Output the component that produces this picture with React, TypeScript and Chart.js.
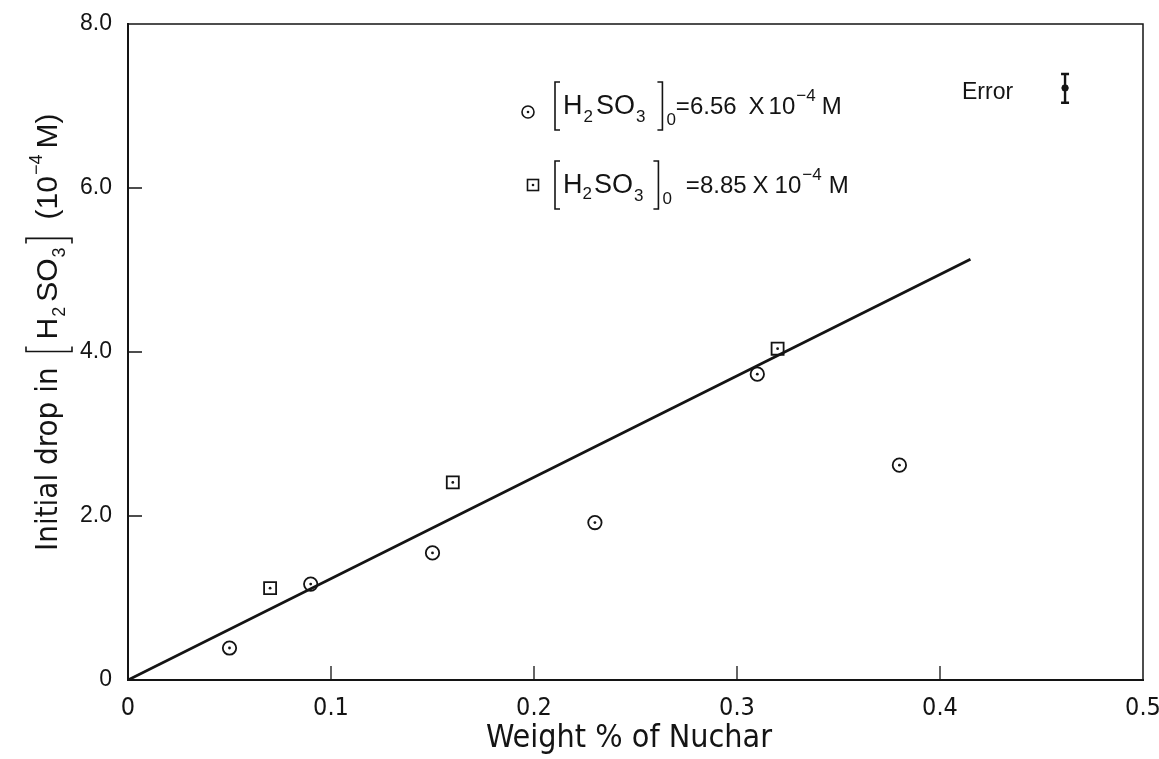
import React, { useEffect, useRef } from "react";
import { Chart, registerables } from "chart.js";

Chart.register(...registerables);

// ---- data ----
const circleX = [0.05, 0.09, 0.15, 0.23, 0.31, 0.38];
const circleY = [0.39, 1.17, 1.55, 1.92, 3.73, 2.62];
const squareX = [0.07, 0.16, 0.32];
const squareY = [1.12, 2.41, 4.04];
const fitX = [0, 0.415];
const fitY = [0, 5.13];
const errX = [0.4616];
const errY = [7.22];
const errLow = [7.04];
const errHigh = [7.39];
const xTicks = [0, 0.1, 0.2, 0.3, 0.4, 0.5];
const yTicks = [0, 2, 4, 6, 8];
const xTickLabels = ["0", "0.1", "0.2", "0.3", "0.4", "0.5"];
const yTickLabels = ["0", "2.0", "4.0", "6.0", "8.0"];

const INK = "#141414";
const SANS = '"Liberation Sans", Arial, sans-serif';
const NARROW = '"Liberation Sans Narrow", "DejaVu Sans Condensed", "Liberation Sans", sans-serif';

type Seg = { t?: string; s?: number; dy?: number; br?: "l" | "r"; up?: number; down?: number; gap?: number; font?: string };

function drawRich(ctx: CanvasRenderingContext2D, segs: Seg[], x: number, y: number, font: string) {
  let cx = x;
  ctx.textBaseline = "alphabetic";
  ctx.textAlign = "left";
  for (const seg of segs) {
    if (seg.br) {
      const up = seg.up || 30;
      const down = seg.down || 14;
      ctx.beginPath();
      ctx.lineWidth = 1.6;
      ctx.strokeStyle = INK;
      if (seg.br === "l") {
        ctx.moveTo(cx + 7, y - up);
        ctx.lineTo(cx + 2, y - up);
        ctx.lineTo(cx + 2, y + down);
        ctx.lineTo(cx + 7, y + down);
      } else {
        ctx.moveTo(cx + 2, y - up);
        ctx.lineTo(cx + 7, y - up);
        ctx.lineTo(cx + 7, y + down);
        ctx.lineTo(cx + 2, y + down);
      }
      ctx.stroke();
      cx += 10 + (seg.gap || 0);
    } else {
      ctx.font = `${seg.s}px ${seg.font || font}`;
      ctx.fillStyle = INK;
      ctx.fillText(seg.t || "", cx, y + (seg.dy || 0));
      cx += ctx.measureText(seg.t || "").width + (seg.gap || 0);
    }
  }
}

const legend1: Seg[] = [
  { br: "l", up: 32, down: 16, gap: 0 },
  { t: "H", s: 27, gap: 1 },
  { t: "2", s: 17, dy: 8, gap: 3 },
  { t: "SO", s: 27, gap: 1 },
  { t: "3", s: 17, dy: 8, gap: 10 },
  { br: "r", up: 32, down: 16, gap: 1 },
  { t: "0", s: 17, dy: 11 },
  { t: "=6.56", s: 24, gap: 12 },
  { t: "X", s: 24, gap: 4 },
  { t: "10", s: 24, gap: 1 },
  { t: "−4", s: 17, dy: -13, gap: 6 },
  { t: "M", s: 24 },
];
const legend2: Seg[] = [
  { br: "l", up: 32, down: 16, gap: 0 },
  { t: "H", s: 27, gap: 0 },
  { t: "2", s: 17, dy: 6, gap: 2 },
  { t: "SO", s: 27, gap: 1 },
  { t: "3", s: 17, dy: 8, gap: 8 },
  { br: "r", up: 32, down: 16, gap: 1 },
  { t: "0", s: 17, dy: 11, gap: 14 },
  { t: "=8.85", s: 24, gap: 6 },
  { t: "X", s: 24, gap: 6 },
  { t: "10", s: 24, gap: 1 },
  { t: "−4", s: 17, dy: -13, gap: 7 },
  { t: "M", s: 24 },
];
const yTitle: Seg[] = [
  { t: "Initial drop in", s: 31, font: NARROW, gap: 14 },
  { br: "l", up: 31, down: 15, gap: 4 },
  { t: "H", s: 30, gap: 1 },
  { t: "2", s: 18, dy: 8, gap: 5 },
  { t: "SO", s: 30, gap: 1 },
  { t: "3", s: 18, dy: 8, gap: 2 },
  { br: "r", up: 31, down: 15, gap: 16 },
  { t: "(10", s: 30, gap: 1 },
  { t: "−4", s: 18, dy: -15, gap: 6 },
  { t: "M)", s: 30 },
];

const decorPlugin = {
  id: "decor",
  afterDatasetsDraw(chart: any) {
    const ctx: CanvasRenderingContext2D = chart.ctx;
    const xs = chart.scales.x;
    const ys = chart.scales.y;
    const area = chart.chartArea;
    ctx.save();
    // frame top & right
    ctx.strokeStyle = INK;
    ctx.lineWidth = 1.5;
    ctx.beginPath();
    ctx.moveTo(area.left, area.top);
    ctx.lineTo(area.right, area.top);
    ctx.lineTo(area.right, area.bottom);
    ctx.stroke();
    // inward ticks
    ctx.lineWidth = 1.3;
    ctx.beginPath();
    for (const v of yTicks) {
      if (v === 0 || v === 8) continue;
      const py = ys.getPixelForValue(v);
      ctx.moveTo(area.left, py);
      ctx.lineTo(area.left + 14, py);
    }
    for (const v of xTicks) {
      if (v === 0 || v === 0.5) continue;
      const px = xs.getPixelForValue(v);
      ctx.moveTo(px, area.bottom);
      ctx.lineTo(px, area.bottom - 14);
    }
    ctx.stroke();
    // center dots
    ctx.fillStyle = INK;
    [1, 2].forEach((i) => {
      chart.getDatasetMeta(i).data.forEach((el: any) => {
        ctx.beginPath();
        ctx.arc(el.x, el.y, 1.4, 0, Math.PI * 2);
        ctx.fill();
      });
    });
    // error bar
    ctx.lineWidth = 2.4;
    ctx.beginPath();
    errX.forEach((x, i) => {
      const px = xs.getPixelForValue(x);
      const lo = ys.getPixelForValue(errLow[i]);
      const hi = ys.getPixelForValue(errHigh[i]);
      ctx.moveTo(px, lo);
      ctx.lineTo(px, hi);
      ctx.moveTo(px - 4, lo);
      ctx.lineTo(px + 4, lo);
      ctx.moveTo(px - 4, hi);
      ctx.lineTo(px + 4, hi);
    });
    ctx.stroke();
    ctx.font = `23px ${SANS}`;
    ctx.fillStyle = INK;
    ctx.textAlign = "left";
    ctx.textBaseline = "alphabetic";
    ctx.fillText("Error", 962, 99);

    // legend markers
    ctx.lineWidth = 1.6;
    ctx.beginPath();
    ctx.arc(528, 112, 6, 0, Math.PI * 2);
    ctx.stroke();
    ctx.beginPath();
    ctx.arc(528, 112, 1.3, 0, Math.PI * 2);
    ctx.fill();
    ctx.strokeRect(527.5, 179.5, 11, 11);
    ctx.beginPath();
    ctx.arc(533, 185, 1.3, 0, Math.PI * 2);
    ctx.fill();
    drawRich(ctx, legend1, 553, 114, SANS);
    drawRich(ctx, legend2, 553, 193, SANS);

    // x title
    ctx.font = `32px ${NARROW}`;
    ctx.textAlign = "center";
    ctx.fillText("Weight % of Nuchar", 629, 747);

    // y title (rotated)
    ctx.save();
    ctx.translate(57, 551);
    ctx.rotate(-Math.PI / 2);
    drawRich(ctx, yTitle, 0, 0, SANS);
    ctx.restore();
    ctx.restore();
  },
};

export default function App() {
  const ref = useRef<HTMLCanvasElement | null>(null);
  useEffect(() => {
    document.body.style.margin = "0";
    const canvas = ref.current!;
    const chart = new Chart(canvas, {
      type: "scatter",
      data: {
        datasets: [
          {
            type: "line",
            data: fitX.map((x, i) => ({ x, y: fitY[i] })),
            borderColor: INK,
            borderWidth: 2.8,
            pointRadius: 0,
            fill: false,
          } as any,
          {
            data: circleX.map((x, i) => ({ x, y: circleY[i] })),
            pointStyle: "circle",
            pointRadius: 6.7,
            borderColor: INK,
            borderWidth: 1.8,
            backgroundColor: "rgba(255,255,255,0)",
          },
          {
            data: squareX.map((x, i) => ({ x, y: squareY[i] })),
            pointStyle: "rect",
            pointRadius: 8.5,
            borderColor: INK,
            borderWidth: 1.8,
            backgroundColor: "rgba(255,255,255,0)",
          },
          {
            data: errX.map((x, i) => ({ x, y: errY[i] })),
            pointStyle: "circle",
            pointRadius: 3.2,
            borderColor: INK,
            backgroundColor: INK,
          },
        ],
      },
      options: {
        animation: false,
        responsive: false,
        events: [],
        layout: { padding: { top: 24, right: 16, left: 0, bottom: 0 } },
        plugins: { legend: { display: false }, tooltip: { enabled: false } },
        scales: {
          x: {
            type: "linear",
            min: 0,
            max: 0.5,
            afterBuildTicks: (s: any) => {
              s.ticks = xTicks.map((v) => ({ value: v }));
            },
            afterFit: (s: any) => {
              s.height = 79;
              s.paddingLeft = 0;
              s.paddingRight = 0;
            },
            ticks: {
              callback: (v: any) => xTickLabels[xTicks.indexOf(Number(v))] ?? "",
              font: { family: NARROW, size: 25 },
              color: INK,
              padding: 5,
              maxRotation: 0,
            },
            grid: { display: false },
            border: { display: true, color: INK, width: 2 },
          },
          y: {
            type: "linear",
            min: 0,
            max: 8,
            afterBuildTicks: (s: any) => {
              s.ticks = yTicks.map((v) => ({ value: v }));
            },
            afterFit: (s: any) => {
              s.width = 128;
              s.paddingTop = 0;
              s.paddingBottom = 0;
            },
            ticks: {
              callback: (v: any) => yTickLabels[yTicks.indexOf(Number(v))] ?? "",
              font: { family: SANS, size: 23 },
              color: INK,
              padding: 8,
            },
            grid: { display: false },
            border: { display: true, color: INK, width: 2 },
          },
        },
      },
      plugins: [decorPlugin],
    });
    return () => chart.destroy();
  }, []);
  return (
    <div style={{ position: "absolute", left: 0, top: 0, width: 1159, height: 759, background: "#fff" }}>
      <canvas ref={ref} width={1159} height={759} />
    </div>
  );
}
